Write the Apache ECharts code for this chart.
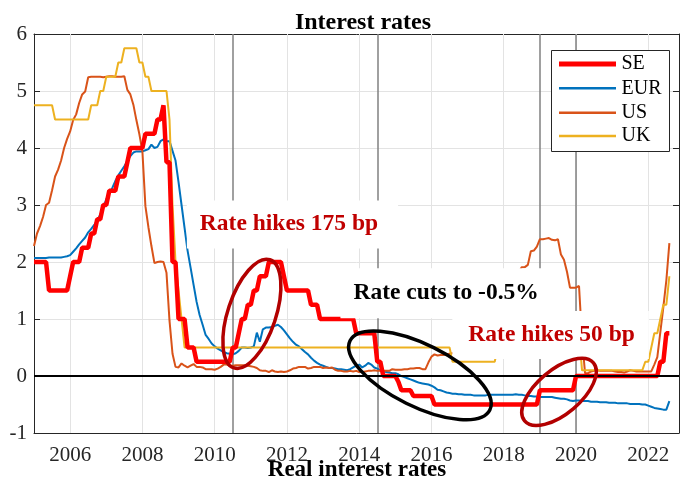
<!DOCTYPE html>
<html><head><meta charset="utf-8">
<script src="https://cdn.jsdelivr.net/npm/echarts@6/dist/echarts.min.js"></script>
<style>html,body{margin:0;padding:0;background:#fff}#c{width:681px;height:486px}</style>
</head><body><div id="c"></div>
<script>
// ---------------- data ----------------
const startYear = 2005;            // first monthly observation: Jan 2005
const xMin = 2005, xMax = 2022.85;
const yMin = -1, yMax = 6;
const xTicks = [2006, 2008, 2010, 2012, 2014, 2016, 2018, 2020, 2022];
const seriesNames = ['SE', 'EUR', 'US', 'UK'];

// Monthly policy / market rates, Jan 2005 .. Aug 2022
const se = [
  2,2,2,2,2,1.5,1.5,1.5,1.5,1.5,1.5,1.5,
  1.75,2,2,2,2.25,2.25,2.25,2.5,2.5,2.75,2.75,3,
  3,3.25,3.25,3.25,3.5,3.5,3.5,3.75,4,4,4,4,
  4,4.25,4.25,4.25,4.25,4.5,4.5,4.75,3.75,3.75,2,2,
  1,1,1,0.5,0.5,0.5,0.25,0.25,0.25,0.25,0.25,0.25,
  0.25,0.25,0.25,0.25,0.25,0.25,0.5,0.5,0.75,1,1,1.25,
  1.25,1.5,1.5,1.75,1.75,1.75,2,2,2,2,2,1.75,
  1.5,1.5,1.5,1.5,1.5,1.5,1.5,1.5,1.25,1.25,1.25,1,
  1,1,1,1,1,1,1,1,1,1,1,0.75,
  0.75,0.75,0.75,0.75,0.75,0.75,0.25,0.25,0,0,0,0,
  0,-0.1,-0.25,-0.25,-0.25,-0.25,-0.35,-0.35,-0.35,-0.35,-0.35,-0.35,
  -0.35,-0.5,-0.5,-0.5,-0.5,-0.5,-0.5,-0.5,-0.5,-0.5,-0.5,-0.5,
  -0.5,-0.5,-0.5,-0.5,-0.5,-0.5,-0.5,-0.5,-0.5,-0.5,-0.5,-0.5,
  -0.5,-0.5,-0.5,-0.5,-0.5,-0.5,-0.5,-0.5,-0.5,-0.5,-0.5,-0.5,
  -0.25,-0.25,-0.25,-0.25,-0.25,-0.25,-0.25,-0.25,-0.25,-0.25,-0.25,-0.25,
  0,0,0,0,0,0,0,0,0,0,0,0,
  0,0,0,0,0,0,0,0,0,0,0,0,
  0,0,0,0,0.25,0.25,0.75,0.75
];
const eur = [
  2.07,2.07,2.07,2.07,2.07,2.08,2.08,2.08,2.08,2.08,2.09,2.10,
  2.12,2.18,2.24,2.31,2.37,2.43,2.52,2.58,2.65,2.73,2.83,2.95,
  3.10,3.20,3.30,3.42,3.52,3.60,3.68,3.77,3.86,3.92,3.94,3.94,
  3.94,3.96,3.98,4.06,4.00,4.02,4.12,4.15,4.12,4.12,3.95,3.78,
  3.40,3.00,2.60,2.20,1.90,1.60,1.30,1.07,0.90,0.72,0.65,0.57,
  0.52,0.48,0.45,0.42,0.40,0.39,0.38,0.40,0.44,0.50,0.50,0.49,
  0.50,0.52,0.76,0.60,0.82,0.85,0.85,0.86,0.88,0.90,0.86,0.80,
  0.73,0.66,0.60,0.55,0.52,0.47,0.42,0.38,0.32,0.27,0.23,0.20,
  0.18,0.16,0.14,0.14,0.13,0.12,0.12,0.11,0.10,0.12,0.15,0.18,
  0.20,0.15,0.18,0.23,0.20,0.15,0.13,0.10,0.08,0.07,0.06,0.05,
  0.05,0.03,0.00,-0.02,-0.04,-0.06,-0.08,-0.10,-0.12,-0.13,-0.14,-0.15,
  -0.17,-0.20,-0.24,-0.25,-0.27,-0.29,-0.30,-0.31,-0.31,-0.32,-0.32,-0.33,
  -0.33,-0.33,-0.34,-0.34,-0.34,-0.34,-0.34,-0.33,-0.33,-0.33,-0.33,-0.33,
  -0.33,-0.33,-0.33,-0.33,-0.32,-0.33,-0.33,-0.34,-0.35,-0.35,-0.36,-0.36,
  -0.37,-0.37,-0.37,-0.37,-0.37,-0.38,-0.39,-0.40,-0.40,-0.41,-0.43,-0.44,
  -0.43,-0.43,-0.44,-0.44,-0.44,-0.45,-0.45,-0.45,-0.46,-0.46,-0.46,-0.47,
  -0.47,-0.47,-0.48,-0.48,-0.48,-0.48,-0.49,-0.49,-0.49,-0.49,-0.50,-0.50,
  -0.52,-0.54,-0.56,-0.57,-0.58,-0.59,-0.59,-0.44
];
const us = [
  2.28,2.50,2.63,2.79,3.00,3.04,3.26,3.50,3.62,3.78,4.00,4.16,
  4.29,4.49,4.59,4.79,4.94,4.99,5.24,5.25,5.25,5.25,5.25,5.24,
  5.25,5.26,5.26,5.25,5.25,5.25,5.26,5.02,4.94,4.76,4.49,4.24,
  3.94,2.98,2.61,2.28,1.98,2.00,2.01,2.00,1.81,0.97,0.39,0.16,
  0.15,0.22,0.18,0.15,0.18,0.21,0.16,0.16,0.15,0.12,0.12,0.12,
  0.11,0.13,0.16,0.20,0.20,0.18,0.18,0.19,0.19,0.19,0.19,0.18,
  0.17,0.16,0.14,0.10,0.09,0.09,0.07,0.10,0.08,0.07,0.08,0.07,
  0.08,0.10,0.13,0.14,0.16,0.16,0.16,0.13,0.14,0.16,0.16,0.16,
  0.14,0.15,0.14,0.15,0.11,0.09,0.09,0.08,0.08,0.09,0.08,0.09,
  0.07,0.07,0.08,0.09,0.09,0.10,0.09,0.09,0.09,0.09,0.09,0.12,
  0.11,0.11,0.11,0.12,0.12,0.13,0.13,0.14,0.14,0.12,0.12,0.24,
  0.34,0.38,0.36,0.37,0.37,0.38,0.39,0.40,0.40,0.40,0.41,0.54,
  0.65,0.66,0.79,0.90,0.91,1.04,1.15,1.16,1.15,1.15,1.16,1.30,
  1.41,1.42,1.51,1.69,1.70,1.82,1.91,1.91,1.95,2.19,2.20,2.27,
  2.40,2.40,2.41,2.42,2.39,2.38,2.40,2.13,2.04,1.83,1.55,1.55,
  1.55,1.58,0.65,0.05,0.05,0.08,0.09,0.10,0.09,0.09,0.09,0.09,
  0.09,0.08,0.07,0.07,0.06,0.08,0.10,0.09,0.08,0.08,0.08,0.08,
  0.08,0.08,0.20,0.33,0.77,1.21,1.68,2.33
];
const uk = [
  4.75,4.75,4.75,4.75,4.75,4.75,4.75,4.5,4.5,4.5,4.5,4.5,
  4.5,4.5,4.5,4.5,4.5,4.5,4.5,4.75,4.75,4.75,5,5,
  5.25,5.25,5.25,5.25,5.5,5.5,5.75,5.75,5.75,5.75,5.75,5.5,
  5.5,5.25,5.25,5,5,5,5,5,5,4.5,3,2,
  1.5,1,0.5,0.5,0.5,0.5,0.5,0.5,0.5,0.5,0.5,0.5,
  0.5,0.5,0.5,0.5,0.5,0.5,0.5,0.5,0.5,0.5,0.5,0.5,
  0.5,0.5,0.5,0.5,0.5,0.5,0.5,0.5,0.5,0.5,0.5,0.5,
  0.5,0.5,0.5,0.5,0.5,0.5,0.5,0.5,0.5,0.5,0.5,0.5,
  0.5,0.5,0.5,0.5,0.5,0.5,0.5,0.5,0.5,0.5,0.5,0.5,
  0.5,0.5,0.5,0.5,0.5,0.5,0.5,0.5,0.5,0.5,0.5,0.5,
  0.5,0.5,0.5,0.5,0.5,0.5,0.5,0.5,0.5,0.5,0.5,0.5,
  0.5,0.5,0.5,0.5,0.5,0.5,0.5,0.25,0.25,0.25,0.25,0.25,
  0.25,0.25,0.25,0.25,0.25,0.25,0.25,0.25,0.25,0.25,0.5,0.5,
  0.5,0.5,0.5,0.5,0.5,0.5,0.5,0.75,0.75,0.75,0.75,0.75,
  0.75,0.75,0.75,0.75,0.75,0.75,0.75,0.75,0.75,0.75,0.75,0.75,
  0.75,0.75,0.1,0.1,0.1,0.1,0.1,0.1,0.1,0.1,0.1,0.1,
  0.1,0.1,0.1,0.1,0.1,0.1,0.1,0.1,0.1,0.1,0.1,0.25,
  0.25,0.5,0.75,0.75,1,1.25,1.25,1.75
];
const markerYears = [2010.5, 2014.5, 2019.0, 2020.0];

// annotations: text, data anchor of the text's left edge / middle, colour, white-box padding [t,r,b,l]
const notes = [
  { text: 'Rate hikes 175 bp', at: [2009.59, 2.66], color: '#C00000', pad: [12, 20, 12, 13] },
  { text: 'Rate cuts to -0.5%', at: [2013.84, 1.45], color: '#000000', pad: [13, 14, 13, 13] },
  { text: 'Rate hikes 50 bp', at: [2017.02, 0.72], color: '#C00000', pad: [12, 14, 12, 16] }
];
// ellipses: centre (data), radii px, rotation rad, colour
const rings = [
  { at: [2011.03, 1.09], rx: 57, ry: 24, rot: 1.25, color: '#B20000' },
  { at: [2015.68, 0.01], rx: 78, ry: 31, rot: -0.46, color: '#000000' },
  { at: [2019.53, -0.28], rx: 45, ry: 22, rot: 0.70, color: '#B20000' }
];

// ---------------- chart ----------------
const FONT = '"Liberation Serif", "Times New Roman", Times, serif';
const toPairs = arr => arr.map((v, i) => [startYear + i / 12, v]);
const colors = { SE: '#FF0000', EUR: '#0072BD', US: '#D95319', UK: '#EDB120' };
const widths = { SE: 4.5, EUR: 2, US: 2, UK: 2 };
const dataMap = { SE: se, EUR: eur, US: us, UK: uk };
const zMap = { SE: 8, EUR: 5, US: 6, UK: 7 };

const chart = echarts.init(document.getElementById('c'), null, { renderer: 'canvas' });

const axisCommonX = {
  type: 'value', min: xMin, max: xMax,
  axisLine: { show: true, onZero: false, lineStyle: { color: '#262626', width: 1 } },
  axisTick: { show: true, inside: true, length: 6, customValues: xTicks, lineStyle: { color: '#262626' } },
  splitLine: { show: false }
};

const series = seriesNames.map(n => ({
  name: n, type: 'line', data: toPairs(dataMap[n]), showSymbol: false, symbol: 'none',
  lineStyle: { color: colors[n], width: widths[n] }, itemStyle: { color: colors[n] },
  z: zMap[n], animation: false, silent: true
}));
// grid lines at the tick years + event lines
series.push({
  name: 'grid', type: 'line', data: [], z: 1, silent: true, animation: false,
  markLine: {
    silent: true, symbol: 'none', label: { show: false }, animation: false,
    data: xTicks.map(t => ({ xAxis: t, lineStyle: { color: '#e3e3e3', width: 1, type: 'solid' } }))
      .concat(markerYears.map(t => ({ xAxis: t, lineStyle: { color: '#808080', width: 1.5, type: 'solid' } })))
  }
});
// zero line
series.push({
  name: 'zero', type: 'line', data: [[xMin, 0], [xMax, 0]], showSymbol: false, symbol: 'none',
  lineStyle: { color: '#000000', width: 2 }, z: 9, silent: true, animation: false
});

chart.setOption({
  animation: false,
  backgroundColor: '#ffffff',
  title: {
    text: 'Interest rates', left: 358, top: 6, textAlign: 'center',
    textStyle: { fontFamily: FONT, fontSize: 24, fontWeight: 'bold', color: '#000' }
  },
  grid: { left: 34, right: 2, top: 34, bottom: 53, containLabel: false },
  xAxis: [
    Object.assign({}, axisCommonX, {
      position: 'bottom',
      axisLabel: { show: true, customValues: xTicks, margin: 12, fontFamily: FONT, fontSize: 21, color: '#262626',
        formatter: v => String(Math.round(v)) }
    }),
    Object.assign({}, axisCommonX, { position: 'top', axisLabel: { show: false } })
  ],
  yAxis: [
    { type: 'value', min: yMin, max: yMax, interval: 1, position: 'left',
      axisLine: { show: true, lineStyle: { color: '#262626' } },
      axisTick: { show: true, inside: true, length: 6, lineStyle: { color: '#262626' } },
      axisLabel: { margin: 7, fontFamily: FONT, fontSize: 21, color: '#262626' },
      splitLine: { show: true, lineStyle: { color: '#e3e3e3', width: 1 } } },
    { type: 'value', min: yMin, max: yMax, interval: 1, position: 'right',
      axisLine: { show: true, lineStyle: { color: '#262626' } },
      axisTick: { show: true, inside: true, length: 6, lineStyle: { color: '#262626' } },
      axisLabel: { show: false }, splitLine: { show: false } }
  ],
  series: series
});

// ---------- overlay: annotations, ellipses, legend ----------
const px = p => chart.convertToPixel({ gridIndex: 0 }, p);
const graphics = [];
notes.forEach((n, i) => {
  const p = px(n.at);
  graphics.push({
    type: 'text', x: p[0] - n.pad[3], y: p[1] - (n.pad[0] - n.pad[2]) / 2, z: 100 + i, silent: true,
    style: { text: n.text, fill: n.color, font: 'bold 23.5px ' + FONT, verticalAlign: 'middle', align: 'left',
      backgroundColor: '#ffffff', padding: n.pad }
  });
});
rings.forEach(r => {
  const p = px(r.at);
  graphics.push({
    type: 'ellipse', x: p[0], y: p[1], rotation: r.rot, z: 120, silent: true,
    shape: { cx: 0, cy: 0, rx: r.rx, ry: r.ry },
    style: { fill: 'none', stroke: r.color, lineWidth: 3.5 }
  });
});
// legend box
const lg = { x: 551.5, y: 50.5, w: 118, h: 101, rows: [64, 88.3, 112.7, 136] };
graphics.push({ type: 'rect', z: 130, silent: true, shape: { x: lg.x, y: lg.y, width: lg.w, height: lg.h },
  style: { fill: '#ffffff', stroke: '#262626', lineWidth: 1 } });
seriesNames.forEach((n, i) => {
  graphics.push({ type: 'line', z: 131, silent: true,
    shape: { x1: lg.x + 7.5, y1: lg.rows[i], x2: lg.x + 64.5, y2: lg.rows[i] },
    style: { stroke: colors[n], lineWidth: n === 'SE' ? 5 : 2.5 } });
  graphics.push({ type: 'text', z: 131, silent: true, x: lg.x + 70, y: lg.rows[i],
    style: { text: n, font: '20px ' + FONT, fill: '#000', verticalAlign: 'middle' } });
});
// next panel's title (cut by the figure edge)
graphics.push({ type: 'text', z: 131, silent: true, x: 357, y: 470,
  style: { text: 'Real interest rates', font: 'bold 23px ' + FONT, fill: '#000', align: 'center', verticalAlign: 'middle' } });

chart.setOption({ graphic: graphics });
</script>
</body></html>
